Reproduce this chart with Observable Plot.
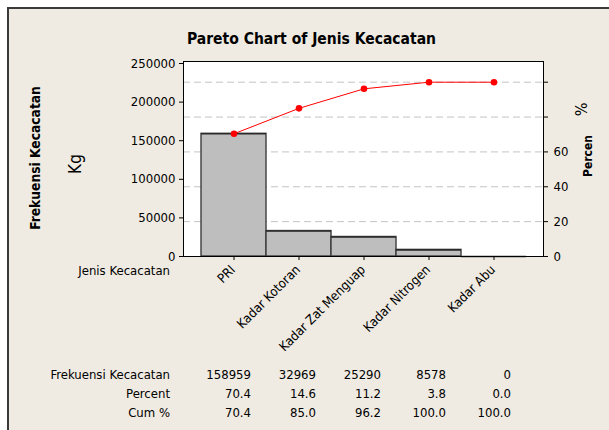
<!DOCTYPE html>
<html><head><meta charset="utf-8">
<script src="https://cdn.jsdelivr.net/npm/d3@7"></script>
<script src="https://cdn.jsdelivr.net/npm/@observablehq/plot@0.6"></script>
<style>
body{margin:0;background:#fff;width:609px;height:430px;overflow:hidden;position:relative;}
#panel{position:absolute;left:7px;top:7px;width:602px;height:423px;background:#efebe2;border-left:2px solid #3a3a3a;border-top:2px solid #3a3a3a;box-sizing:border-box}
#chart{position:absolute;left:0;top:0}
</style></head><body><div id="panel"></div><div id="chart"></div>
<script>
const categories = ["PRI", "Kadar Kotoran", "Kadar Zat Menguap", "Kadar Nitrogen", "Kadar Abu"];
const counts = [158959, 32969, 25290, 8578, 0];
const percents = [70.4, 14.6, 11.2, 3.8, 0.0];
const cumPercents = [70.4, 85.0, 96.2, 100.0, 100.0];
const leftTicks = [0, 50000, 100000, 150000, 200000, 250000];
const pctTicks = [0, 20, 40, 60, 80, 100];
const pctTickLabels = ["0", "20", "40", "60", "", ""];
const rowLabels = ["Frekuensi Kecacatan", "Percent", "Cum %"];
const title = "Pareto Chart of Jenis Kecacatan";

const total = d3.sum(counts);
let run = 0;
const data = categories.map((c, i) => {
  run += counts[i];
  return {cat: c, count: counts[i], pct: percents[i], cum: cumPercents[i], cumCount: run};
});
const pctToCount = p => p / 100 * total;
const FONT = '"DejaVu Sans Condensed", "DejaVu Sans", sans-serif';

const chart = Plot.plot({
  width: 609, height: 430,
  marginLeft: 183, marginRight: 66, marginTop: 61, marginBottom: 174,
  style: {background: "transparent", fontFamily: FONT, fontSize: "13px", color: "#000", fontStretch: "condensed"},
  x: {domain: categories, paddingInner: 0, paddingOuter: 0.25},
  y: {domain: [0, 252600]},
  marks: [
    Plot.frame({fill: "white", stroke: null}),
    Plot.ruleY(pctTicks.slice(1).map(pctToCount), {stroke: "#c4c4c4", strokeDasharray: "7,4", strokeWidth: 1}),
    Plot.barY(data, {x: "cat", y: "count", fill: "#bebebe", stroke: "#3c3c3c", strokeWidth: 1.4}),
    Plot.tickY(data, {x: "cat", y: "count", stroke: "#2a2a2a", strokeWidth: 1.6}),
    Plot.line(data, {x: "cat", y: "cumCount", stroke: "#ff0000", strokeWidth: 1}),
    Plot.dot(data, {x: "cat", y: "cumCount", fill: "#ff0000", r: 3.3}),
    Plot.frame({stroke: "#000", strokeWidth: 1}),
    Plot.axisY({ticks: leftTicks, tickFormat: d3.format("d"), tickSize: 4, tickPadding: 4, label: null, fontSize: 13}),
    Plot.axisY({anchor: "right", ticks: pctTicks.map(pctToCount), tickFormat: d => pctTickLabels[pctTicks.indexOf(Math.round(d / total * 100))], tickSize: 4, tickPadding: 6, label: null, fontSize: 13}),
    Plot.axisX({tickSize: 4, tickFormat: () => "", label: null}),
    Plot.text(data, {x: "cat", text: "cat", frameAnchor: "bottom", rotate: -45, textAnchor: "end", lineAnchor: "bottom", dx: 2, dy: 14, fontSize: 13}),
    Plot.text([title], {frameAnchor: "top", textAnchor: "middle", lineAnchor: "middle", dx: -52, dy: -22.5, fontWeight: "bold", fontSize: 15.5}),
    Plot.text(["Frekuensi Kecacatan"], {frameAnchor: "left", textAnchor: "middle", lineAnchor: "middle", rotate: -90, dx: -147.5, dy: -1, fontWeight: "bold", fontSize: 13.7}),
    Plot.text(["Kg"], {frameAnchor: "left", textAnchor: "middle", lineAnchor: "middle", rotate: -90, dx: -108, dy: 5, fontSize: 17}),
    Plot.text(["%"], {frameAnchor: "right", textAnchor: "middle", lineAnchor: "middle", rotate: -90, dx: 38.7, dy: -49.5, fontSize: 16}),
    Plot.text(["Percen"], {frameAnchor: "right", textAnchor: "middle", lineAnchor: "middle", rotate: -90, dx: 44.5, dy: -3, fontWeight: "bold", fontSize: 12}),
    Plot.text(["Jenis Kecacatan"], {frameAnchor: "bottom-left", lineAnchor: "middle", dx: -13.5, dy: 14.5, textAnchor: "end", fontSize: 13}),
    Plot.text([rowLabels.join("\n")], {frameAnchor: "bottom-left", dx: -13.5, dy: 108.8, textAnchor: "end", lineAnchor: "top", lineHeight: 1.4615, fontSize: 13}),
    Plot.text(data, {x: "cat", text: d => `${d.count}\n${d.pct.toFixed(1)}\n${d.cum.toFixed(1)}`, frameAnchor: "bottom", dx: 17, dy: 108.8, textAnchor: "end", lineAnchor: "top", lineHeight: 1.4615, fontSize: 13})
  ]
});
document.getElementById("chart").appendChild(chart);
</script>
</body></html>
